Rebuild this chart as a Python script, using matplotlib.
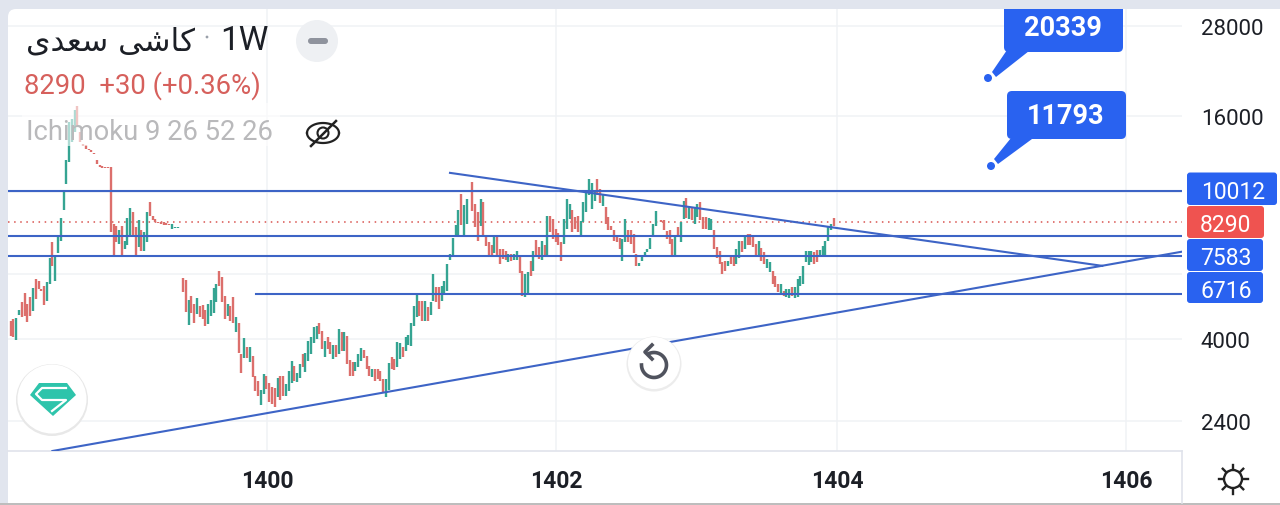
import matplotlib
matplotlib.use('Agg')
import matplotlib.pyplot as plt
import numpy as np
from matplotlib.patches import Circle, FancyBboxPatch, Polygon, Rectangle
from matplotlib.ticker import NullFormatter

nan = float('nan')

# Weekly bars (nan = week with no bar)
highs = [
    4460, 4530, 4560, 4800, 5035, 5325, 4955, 5195, 5495, 5810,
    5750, 5440, 5575, 5705, 6620, 7315, 6720, 7545, 8495, 9995,
    12180, 15430, 15725, 16560, 16980, 14495, 13465, 13320, 13047, 12910,
    12730, 12130, 11805, 11685, 11660, 11660, 11640, 8180, 8095, 7895,
    8095, 7375, 8475, 9020, 8800, 8015, 8355, 7850, 7795, 8800,
    9370, 8585, 8405, 8300, 8265, 8265, 8215, 8180, 8180, 8030,
    8015, nan,
    5845, 5785, 5105, 5235, 4955, 5150, 4900, 4945, 4800, 4975,
    5100, 5495, 5635, 6120, 5870, 5235, 4975, 4920, 5185, 4575,
    4405, 3645, 4025, 3815, 3815, 3605, 3185, 3075, 2915, 3215,
    3185, 3045, 2960, 2950, 3140, 3185, 3170, 3025, 3285, 3480,
    3385, 3230, 3425, 3645, 3675, 3945, 4045, 4300, 4345, 4430,
    4215, 3960, 4045, 3920, 3840, 3840, 4257, 4170, 4170, 4085,
    3515, 3460, 3460, 3645, 3785, 3735, 3605, 3385, 3319, 3319,
    3319, 3270, 3119, 3119, 3450, 3570, 3532, 3935, 3905, 3800,
    4045, 4110, 4430, 4920, 5295, 5075, 5075, 5075, 4875, 5045,
    5995, 5515, 5515, 5575, 5750, 6380, 6790, 7485, 8145, 8940,
    9860, 9170, 9558, nan, 10600, 9265, 8800, 9520, 9370, 7610,
    7300, 7150, 7610, 7610, 7003, 7003, 6925, 6790, 6790, 6790,
    6925, 6720, 6120, 5995, 6060, 6480, 6905, 7420, 7075, 7330,
    7185, 8610, 8610, 8440, 7931, 7730, 7300, 8440, 9558, 9265,
    8930, 8560, 8610, 8340, 9370, 10025, 10780, 10570, 10025, 10825,
    10172, 9820, 9075, 8530, 8095, 7850, 7610, 7500, 7452, 8440,
    7850, 7850, 7660, 6790, 6405, 6650, 6860, 7003, 7500, 8180,
    8855, nan, 8355, 8355, 7820, 7850, 7452, 7610, 8015, 8265,
    9425, 9620, 9075, 9075, 9075, 9265, 9370, 8560, 8530, 8495,
    8440, 7850, 7075, 6890, 6435, 6510, 6510, 6720, 6720, 7003,
    7330, 7330, 7610, 7660, 7660, 7580, 7225, 7375, 7035, 6860,
    6580, 6470, 6120, 5925, 5635, 5635, 5405, 5460, 5460, 5515,
    5515, 5810, 5905, 6310, 6890, 6890, 6890, 6860, 6970, 6970,
    7110, 7375, 8095, 8180, 8475,
]
lows = [
    4070, 4050, 3985, 4640, 4585, 4620, 4445, 4620, 4770, 5130,
    5460, 5405, 4945, 5075, 5635, 6310, 5750, 6835, 7330, 8890,
    10450, 12030, 13625, 14495, 14960, 13625, 13260, 13047, 12910, 12810,
    12650, 11830, 11640, 11590, 11610, 11610, 7760, 6745, 7300, 7225,
    6720, 7003, 7150, 7610, 7610, 6650, 7075, 6890, 6890, 7300,
    8585, 8355, 8265, 8215, 8180, 8130, 8145, 8130, 7931, 7980,
    7980, nan,
    5350, 4725, 4370, 4690, 4420, 4675, 4580, 4530, 4340, 4395,
    4620, 4700, 5025, 5570, 5025, 4530, 4620, 4470, 4420, 4170,
    3660, 3230, 3555, 3555, 3460, 3150, 2900, 2810, 2645, 2840,
    2931, 2700, 2670, 2625, 2785, 2735, 2810, 2810, 2900, 3035,
    3085, 3055, 3140, 3355, 3250, 3495, 3645, 3905, 4000, 4125,
    3759, 3570, 3759, 3645, 3532, 3570, 3645, 3705, 3705, 3425,
    3170, 3185, 3270, 3355, 3495, 3555, 3319, 3185, 3150, 3085,
    3119, 3070, 2870, 2795, 2915, 3319, 3300, 3355, 3532, 3585,
    3705, 3840, 3825, 4340, 4575, 4620, 4470, 4470, 4470, 4650,
    5055, 5025, 4821, 5055, 5290, 5405, 6540, 6745, 7640, 7640,
    8145, 7610, 8180, nan, 8855, 8045, 7370, 8095, 7560, 7120,
    6720, 6650, 6835, 6720, 6380, 6580, 6540, 6470, 6490, 6540,
    6540, 6025, 5235, 5185, 5315, 5930, 6120, 6720, 6580, 6540,
    6720, 6745, 7760, 7452, 7300, 7190, 6490, 7225, 7931, 8440,
    7760, 7931, 7760, 7640, 8300, 8800, 9760, 8982, 9455, 9760,
    9300, 9135, 8180, 7895, 7850, 7375, 7300, 7003, 6510, 7300,
    7300, 7225, 6825, 6310, 6280, 6490, 6680, 6860, 7003, 7540,
    8095, nan, 8265, 7850, 7452, 7225, 6720, 6650, 7530, 7300,
    8440, 8495, 8440, 8355, 8180, 8530, 8355, 7931, 7931, 7850,
    7895, 7003, 6610, 6380, 5995, 6120, 6290, 6380, 6310, 6380,
    6610, 6860, 7003, 7180, 7180, 7075, 6650, 6720, 6510, 6380,
    6210, 6060, 5635, 5515, 5350, 5295, 5225, 5185, 5150, 5225,
    5150, 5185, 5575, 5635, 6445, 6340, 6445, 6380, 6445, 6720,
    6720, 6720, 7375, 7850, 8075,
]
directions = (
    "rrggrrrrgr" "rrrggrgggg" "ggggrrrrrr" "rrrrrrrrrg" "rgggrrgrgg" "rrrrrrrrgg" "gr"
    "rrgrrgrrrg" "gggrrrgrrg" "rrgrgrrrgg" "rrrrgrrggg" "rggrgggggr"
    "rgrrgrgrgr" "rrgggrrrgr" "rrrggrrggr" "gggggrrgrg" "grrggggggg"
    "rggrrrrgrr" "rrgrrrrgrg" "grrggrgrrg" "rgrrrrrggg" "rrrggggggr"
    "rgrrrrrrgg" "rrrrgggggg" "grrrrrrgrg" "grgrggrrrg" "grrrrrgrrg"
    "grgrrrrgrr" "ggrrrgrggr" "gggggggrrg" "ggggr"
)

# Drawn levels and trend lines
levels = [10012, 7583, 6716]
level_short = 5290
trend_up_weeks = [15, 421]
trend_up_prices = [1993, 6875]
trend_down_weeks = [158, 392.6]
trend_down_prices = [11230, 6300]
last_price = 8290

year_weeks = [92.2, 196.1, 297.2, 401.2]
year_labels = ['1400', '1402', '1404', '1406']
price_ticks = [2400, 4000, 16000, 28000]
price_grid = [6000, 10000]

RED = '#dc6f6c'
GREEN = '#35a492'
BLUE = '#3d64c6'
TAG = '#2962f0'
W, H = 1280, 506

plt.rcParams['font.family'] = ['Roboto', 'DejaVu Sans']
fig = plt.figure(figsize=(12.8, 5.06), dpi=100, facecolor='#e1e5ee')

# back panel
back = fig.add_axes([0, 0, 1, 1], zorder=0)
back.set_xlim(0, W)
back.set_ylim(H, 0)
back.axis('off')
panel = FancyBboxPatch((8, 10), W + 40, H + 40, boxstyle='round,pad=0,rounding_size=8', fc='white', ec='none')
back.add_patch(panel)
back.add_patch(Rectangle((0, 504), W, 2, fc='#bdbdbd', ec='none'))
back.plot([1182, 1182], [452, 504], color='#e0e3eb', lw=1.2)

# chart
ax = fig.add_axes([8 / W, 1 - 452 / H, (1182 - 8) / W, (452 - 10) / H], zorder=1)
ax.patch.set_alpha(0)
weeks = np.arange(len(highs))
step = (833.7 - 10.7) / (len(highs) - 1)
ax.set_xlim(-(10.7 - 8) / step, weeks[-1] + (1182 - 833.7) / step)
ax.set_yscale('log')
ax.set_ylim(1993, 31100)

ax.set_axisbelow(True)
ax.vlines(weeks, lows, highs, colors=[RED if d == 'r' else GREEN for d in directions], lw=1.7, zorder=3)
for lv in levels:
    ax.axhline(lv, color=BLUE, lw=1.5, zorder=4)
ax.plot([(256 - 10.7) / step, weeks[-1] + 400 / step], [level_short, level_short], color=BLUE, lw=1.5, zorder=4)
ax.plot(trend_up_weeks, trend_up_prices, color=BLUE, lw=1.5, zorder=4)
ax.plot(trend_down_weeks, trend_down_prices, color=BLUE, lw=1.5, zorder=4)
ax.axhline(last_price, color='#d9534f', lw=1.1, ls=(0, (1, 3)), zorder=2)

ax.yaxis.tick_right()
ax.set_yticks(price_ticks, [str(p) for p in price_ticks], fontsize=16, color='#1c1f26')
ax.set_yticks(price_grid, minor=True)
ax.yaxis.set_minor_formatter(NullFormatter())
ax.set_xticks(year_weeks, year_labels, fontsize=16.5, fontweight='bold', color='#1c1f26')
ax.tick_params(axis='y', which='both', length=0, pad=13.5)
ax.tick_params(axis='x', length=0, pad=13)
ax.yaxis.grid(True, which='both', color='#f0f2f5', lw=1.1)
ax.xaxis.grid(True, which='major', color='#f0f2f5', lw=1.1)
for side in ['top', 'left', 'right']:
    ax.spines[side].set_visible(False)
ax.spines['bottom'].set_color('#e0e3eb')
ax.spines['bottom'].set_linewidth(1.2)

# interface layer, in picture pixels
ui = fig.add_axes([0, 0, 1, 1], zorder=2)
ui.set_xlim(0, W)
ui.set_ylim(H, 0)
ui.axis('off')
ui.patch.set_alpha(0)


def round_box(x0, y0, x1, y1, color, r=5):
    box = FancyBboxPatch((x0, y0), x1 - x0, y1 - y0, boxstyle='round,pad=0,rounding_size=%g' % r, fc=color, ec='none')
    ui.add_patch(box)
    return box


# legend backdrop fades the bars behind it
ui.add_patch(Rectangle((22, 104), 258, 43, fc='white', ec='none', alpha=0.6))
# Persian name as presentation forms in visual order, matplotlib does not shape Arabic
ui.text(26, 50, '\uFBFC\uFEAA\uFECC\uFEB3 \uFBFD\uFEB7\uFE8E\uFB90', fontsize=22.5, color='#1c1f26',
        family=['DejaVu Sans'], ha='left', va='baseline')
ui.add_patch(Circle((207, 38), 1.4, fc='#9aa0aa', ec='none'))
ui.text(220, 50, '1W', fontsize=24, color='#1c1f26', ha='left', va='baseline')
ui.add_patch(Circle((317, 42), 21, fc='#eef0f3', ec='none'))
round_box(308, 39, 328, 45, '#8f939d', r=3)
ui.text(24, 85.5, '8290  +30 (+0.36%)', fontsize=19.8, color='#d6605c', ha='left', va='center')
ui.text(26, 132.5, 'Ichimoku 9 26 52 26', fontsize=19.7, color='#b9b9bb', ha='left', va='center')

# crossed eye
t = np.linspace(0, np.pi, 40)
ui.plot(323 + 16 * np.cos(t), 134 - 10 * np.sin(t), color='#222222', lw=1.6)
ui.plot(323 + 16 * np.cos(t), 134 + 10 * np.sin(t), color='#222222', lw=1.6)
ui.add_patch(Circle((323, 134), 5.5, fc='none', ec='#222222', lw=1.5))
ui.plot([311, 336], [147, 122], color='#222222', lw=1.8)

# logo
ui.add_patch(Circle((52, 401), 36, fc='#e8e8e8', ec='none'))
ui.add_patch(Circle((52, 400), 34.5, fc='white', ec='none'))
ui.add_patch(Polygon([(39, 384), (67, 384), (76, 396), (53, 417), (30, 396)], fc='#2ec4ab', ec='none'))
ui.plot([66, 42, 36, 42, 66, 52], [389, 389, 395, 401, 401, 412], color='white', lw=1.6)

# reset button
ui.add_patch(Circle((654, 365), 27.5, fc='#ececec', ec='none'))
ui.add_patch(Circle((654, 364), 26, fc='white', ec='none'))
t = np.radians(np.linspace(110, -180, 50))
ui.plot(654 + 12.5 * np.cos(t), 366 - 12.5 * np.sin(t), color='#50535e', lw=2.6)
ui.plot([652, 645, 652], [346, 353, 360], color='#50535e', lw=2.6)

# drawn callouts
for (x0, y0, x1, y1), tail, dot, text, tx, ty in [
    ((1004, -8, 1123, 53), [(1007, 51), (1029, 52), (996, 78), (992, 73)], (988, 79), '20339', 1063, 28),
    ((1007, 92, 1126, 140), [(1011, 139), (1032, 140), (998, 165), (994, 160)], (991, 167), '11793', 1066, 116),
]:
    box = round_box(x0, y0, x1, y1, TAG)
    box.set_clip_path(panel.get_path(), panel.get_transform())
    ui.add_patch(Polygon(tail, fc=TAG, ec='none'))
    ui.add_patch(Circle(dot, 4, fc=TAG, ec='none'))
    ui.text(tx, ty, text, fontsize=19.5, fontweight='bold', color='white', ha='center', va='center')

# price tags
for y0, y1, x1, color, label, tx in [
    (173.5, 206, 1277, TAG, '10012', 1233),
    (240, 272, 1263, TAG, '7583', 1226),
    (273, 304, 1263, TAG, '6716', 1226),
    (207, 239, 1264, '#ef5350', '8290', 1225),
]:
    round_box(1187, y0, x1, y1, color, r=3)
    ui.text(tx, (y0 + y1) / 2 + 2.5, label, fontsize=16.5, color='white', ha='center', va='center')

# sun icon
ui.add_patch(Circle((1233, 480), 9, fc='none', ec='#222222', lw=1.7))
for a in np.radians(np.arange(0, 360, 45)):
    ui.plot([1233 + 10 * np.cos(a), 1233 + 14.5 * np.cos(a)], [480 + 10 * np.sin(a), 480 + 14.5 * np.sin(a)],
            color='#222222', lw=1.7)

plt.savefig('out.png', dpi=100, facecolor=fig.get_facecolor())
